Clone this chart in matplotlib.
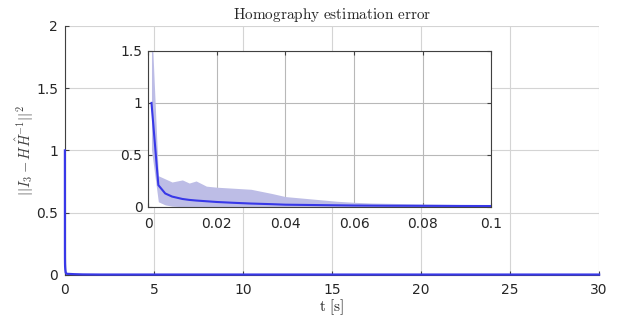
import numpy as np
import matplotlib.pyplot as plt
from matplotlib.ticker import FuncFormatter

plt.rcParams['mathtext.fontset'] = 'cm'

# early transient (inset range)
t_in = [0.001, 0.003, 0.005, 0.007, 0.010, 0.012, 0.014, 0.017, 0.020, 0.025,
        0.030, 0.036, 0.040, 0.045, 0.050, 0.055, 0.060, 0.065, 0.070, 0.080,
        0.090, 0.100]
mean_in = [1.0, 0.21, 0.13, 0.10, 0.077, 0.068, 0.062, 0.055, 0.048, 0.040,
           0.033, 0.027, 0.022, 0.020, 0.018, 0.016, 0.014, 0.013, 0.012, 0.011,
           0.010, 0.009]
upper_in = [1.8, 0.30, 0.27, 0.24, 0.26, 0.23, 0.25, 0.20, 0.19, 0.18,
            0.17, 0.13, 0.10, 0.085, 0.07, 0.055, 0.045, 0.038, 0.035, 0.029,
            0.024, 0.020]
lower_in = [0.55, 0.05, 0.02, 0.008, 0.003, 0.0, 0.0, 0.0, 0.0, 0.0,
            0.0, 0.0, 0.0, 0.0, 0.0, 0.0, 0.0, 0.0, 0.0, 0.0,
            0.0, 0.0]

# rest of the run
t_tail = [0.5, 1, 2, 5, 10, 15, 20, 25, 30]
mean_tail = [0.006, 0.004, 0.003, 0.003, 0.003, 0.003, 0.003, 0.003, 0.003]
upper_tail = [0.012, 0.010, 0.009, 0.009, 0.009, 0.009, 0.009, 0.009, 0.009]
lower_tail = [0.0, 0.0, 0.0, 0.0, 0.0, 0.0, 0.0, 0.0, 0.0]

t_all = t_in + t_tail
mean_all = mean_in + mean_tail
upper_all = upper_in + upper_tail
lower_all = lower_in + lower_tail

line_c = '#3838e8'
band_c = '#bdbde6'
txt_c = '#262626'
fmt = FuncFormatter(lambda v, p: '%g' % round(v, 6))

fig = plt.figure(figsize=(6.3, 3.16), dpi=100)
ax = fig.add_axes([0.103, 0.130, 0.848, 0.788])
ax.fill_between(t_all, lower_all, upper_all, color=band_c, lw=0)
ax.plot(t_all, mean_all, color=line_c, lw=1.6, zorder=3, clip_on=False)
ax.set_xlim(0, 30)
ax.set_ylim(0, 2)
ax.set_xticks([0, 5, 10, 15, 20, 25, 30])
ax.set_yticks([0, 0.5, 1, 1.5, 2])
ax.xaxis.set_major_formatter(fmt)
ax.yaxis.set_major_formatter(fmt)
ax.grid(True, color='#d4d4d4', lw=0.8)
ax.set_axisbelow(True)
for s in ['top', 'right']:
    ax.spines[s].set_visible(False)
for s in ['left', 'bottom']:
    ax.spines[s].set_color('#404040')
    ax.spines[s].set_linewidth(0.8)
ax.tick_params(direction='in', length=3, colors='#404040', labelcolor=txt_c,
               labelsize=10)
ax.tick_params(axis='x', pad=6)
ax.tick_params(axis='y', pad=5)
ax.set_title(r'$\mathrm{Homography\ estimation\ error}$', fontsize=11,
             color=txt_c, pad=5)
ax.set_xlabel(r'$\mathrm{t\ [s]}$', fontsize=11, color=txt_c, labelpad=0)
ax.set_ylabel(r'$||I_3 - H\hat{H}^{-1}||^2$', fontsize=10.5, color='#404040',
              labelpad=0)

# zoomed inset
ins = fig.add_axes([0.235, 0.345, 0.545, 0.494])
ins.fill_between(t_in, lower_in, upper_in, color=band_c, lw=0)
ins.plot(t_in, mean_in, color=line_c, lw=1.5, zorder=3)
ins.set_xlim(0, 0.1)
ins.set_ylim(0, 1.5)
ins.set_xticks([0, 0.02, 0.04, 0.06, 0.08, 0.1])
ins.set_yticks([0, 0.5, 1, 1.5])
ins.xaxis.set_major_formatter(fmt)
ins.yaxis.set_major_formatter(fmt)
ins.grid(True, color='#b8b8b8', lw=0.8)
ins.set_axisbelow(True)
for s in ins.spines.values():
    s.set_color('#404040')
    s.set_linewidth(0.8)
ins.tick_params(direction='in', length=3, colors='#404040', labelcolor=txt_c,
                labelsize=10, top=True, right=True)
ins.tick_params(axis='x', pad=7)
ins.tick_params(axis='y', pad=4)

fig.savefig('out.png', dpi=100)
